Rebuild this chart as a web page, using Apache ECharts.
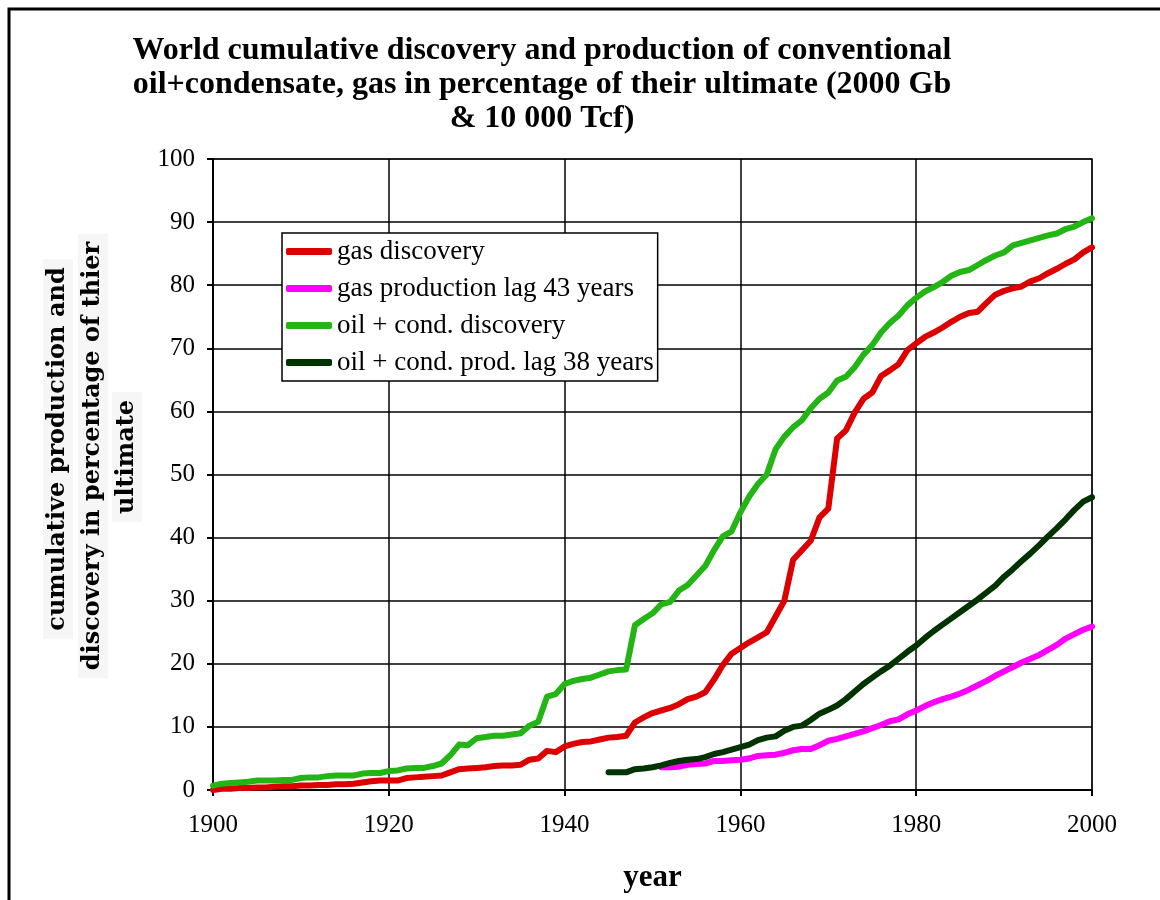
<!DOCTYPE html>
<html>
<head>
<meta charset="utf-8">
<script src="https://cdn.jsdelivr.net/npm/echarts@6/dist/echarts.min.js"></script>
<style>html,body{margin:0;padding:0;background:#fff;}#c{width:1160px;height:900px;}</style>
</head>
<body>
<div id="c"></div>
<script>
// ---- data ----
var gasDiscYears = [];
for (var y = 1900; y <= 2000; y++) gasDiscYears.push(y);
var oilDiscYears = gasDiscYears;
var gasDiscovery = [0,0.2,0.2,0.3,0.3,0.4,0.4,0.5,0.6,0.6,
  0.7,0.7,0.8,0.8,0.9,0.9,1.0,1.2,1.4,1.5,
  1.5,1.5,1.9,2.0,2.1,2.2,2.3,2.8,3.3,3.4,
  3.5,3.6,3.8,3.9,3.9,4.0,4.8,5.0,6.2,6.0,
  6.9,7.3,7.6,7.7,8.0,8.3,8.4,8.6,10.7,11.5,
  12.2,12.6,13.0,13.6,14.4,14.8,15.5,17.5,19.8,21.6,
  22.5,23.4,24.2,25.0,27.5,30.0,36.5,38.0,39.5,43.2,
  44.6,55.7,57.0,59.8,62.0,63.0,65.6,66.5,67.5,69.7,
  70.8,71.8,72.5,73.3,74.2,75.0,75.6,75.8,77.2,78.5,
  79.1,79.5,79.8,80.6,81.1,81.9,82.6,83.4,84.1,85.2,86.0];
var oilDiscovery = [0.7,1.0,1.1,1.2,1.3,1.5,1.5,1.5,1.6,1.6,
  1.9,2.0,2.0,2.2,2.3,2.3,2.3,2.6,2.7,2.7,
  3.0,3.1,3.4,3.5,3.5,3.8,4.2,5.5,7.2,7.1,
  8.2,8.4,8.6,8.6,8.8,9.0,10.2,10.8,14.8,15.2,
  16.8,17.3,17.6,17.8,18.3,18.8,19.0,19.1,26.1,27.1,
  28.0,29.4,29.8,31.6,32.5,34.0,35.5,38.0,40.2,41.0,
  44.0,46.5,48.5,50.0,54.0,56.0,57.5,58.6,60.5,62.0,
  63.0,64.9,65.5,67.0,69.0,70.5,72.5,74.0,75.2,76.8,
  78.0,79.0,79.7,80.5,81.5,82.1,82.4,83.2,84.0,84.7,
  85.2,86.3,86.7,87.1,87.5,87.9,88.2,88.9,89.3,90.0,90.6];
var oilProdYears = [];
for (var y2 = 1945; y2 <= 2000; y2++) oilProdYears.push(y2);
var oilProduction = [2.8,2.8,2.8,3.3,3.4,
  3.6,3.9,4.3,4.6,4.8,4.9,5.2,5.7,6.0,6.4,
  6.8,7.2,7.9,8.3,8.5,9.4,10.0,10.2,11.1,12.1,
  12.7,13.4,14.4,15.6,16.8,17.8,18.8,19.7,20.8,21.9,
  22.9,24.1,25.2,26.2,27.2,28.2,29.2,30.2,31.3,32.4,
  33.8,35.0,36.3,37.5,38.8,40.2,41.5,42.9,44.4,45.7,46.4];
var gasProdYears = [];
for (var y3 = 1951; y3 <= 2000; y3++) gasProdYears.push(y3);
var gasProduction = [3.6,3.6,3.7,4.0,4.1,4.2,4.6,4.6,4.7,
  4.8,5.0,5.4,5.5,5.6,5.9,6.3,6.5,6.5,7.1,
  7.8,8.1,8.5,8.9,9.3,9.8,10.3,10.9,11.2,12.0,
  12.6,13.3,13.9,14.4,14.8,15.3,15.9,16.6,17.3,18.1,
  18.8,19.5,20.2,20.8,21.4,22.2,23.0,24.0,24.7,25.4,25.9];
var seriesNames = ['gas discovery','gas production lag 43 years','oil + cond. discovery','oil + cond. prod. lag 38 years'];
var xTicks = [1900,1920,1940,1960,1980,2000];
var yTicks = [0,10,20,30,40,50,60,70,80,90,100];
var titleLines = ['World cumulative discovery and production of conventional','oil+condensate, gas in percentage of their ultimate (2000 Gb','& 10 000 Tcf)'];
var yNameLines = ['cumulative production and','discovery in percentage of thier','ultimate'];

function pairs(xs, vs){ return xs.map(function(x,i){ return [x, vs[i]]; }); }

var serif = 'Liberation Serif, Times New Roman, serif';
var chart = echarts.init(document.getElementById('c'), null, {renderer:'canvas'});
function mk(name, xs, vs, color){
  return {name:name, type:'line', data:pairs(xs,vs), showSymbol:false, symbol:'none',
    lineStyle:{color:color, width:6, cap:'round', join:'round'}, itemStyle:{color:color},
    animation:false, silent:true};
}
var yNamePos = [[58,449],[93,456],[127,457]];
var yNameGraphics = yNameLines.map(function(t,i){
  return {type:'text', x:yNamePos[i][0], y:yNamePos[i][1], rotation:Math.PI/2,
    style:{text:t, font:'bold 24px DejaVu Serif, serif', fill:'#000', align:'center', verticalAlign:'middle',
      backgroundColor:'#f6f6f6', padding:[3,8,3,8]}};
});
chart.setOption({
  animation:false,
  backgroundColor:'#fff',
  grid:{left:213, right:68, top:159, bottom:110, show:true, borderColor:'#888', borderWidth:2},
  xAxis:{type:'value', min:1900, max:2000, interval:20,
    axisLine:{show:true, onZero:false, lineStyle:{color:'#000', width:2}},
    axisTick:{show:true, length:6, lineStyle:{color:'#000', width:2}},
    axisLabel:{fontFamily:serif, fontSize:25, color:'#000', margin:23, formatter:function(v){return String(v);}},
    splitLine:{show:true, lineStyle:{color:'#000', width:1.5}},
    name:'year', nameLocation:'middle', nameGap:72,
    nameTextStyle:{fontFamily:serif, fontSize:31, fontWeight:'bold', color:'#000'}},
  yAxis:{type:'value', min:0, max:100, interval:10,
    axisLine:{show:true, lineStyle:{color:'#000', width:2}},
    axisTick:{show:true, length:6, lineStyle:{color:'#000', width:2}},
    axisLabel:{fontFamily:serif, fontSize:25, color:'#000', margin:18},
    splitLine:{show:true, lineStyle:{color:'#000', width:1.5}}},
  legend:{orient:'vertical', left:282, top:233, data:seriesNames,
    backgroundColor:'#fff', borderColor:'#000', borderWidth:1.5, borderRadius:0,
    padding:[5,4,5,4], itemWidth:46, itemHeight:7, itemGap:10, icon:'roundRect',
    textStyle:{fontFamily:serif, fontSize:27, color:'#000', lineHeight:27, padding:[0,0,0,0]}},
  graphic:[
    {type:'polyline', shape:{points:[[9,900],[9,9],[1160,9]]}, style:{stroke:'#000', lineWidth:3, fill:null}, z:100},
    {type:'text', x:542, y:34, style:{text:titleLines.join('\n'),
      font:'bold 32px ' + serif, fill:'#000', align:'center', verticalAlign:'top', lineHeight:34}}
  ].concat(yNameGraphics),
  series:[
    mk(seriesNames[0], gasDiscYears, gasDiscovery, '#dd0000'),
    mk(seriesNames[1], gasProdYears, gasProduction, '#ff00ff'),
    mk(seriesNames[2], oilDiscYears, oilDiscovery, '#22b514'),
    mk(seriesNames[3], oilProdYears, oilProduction, '#003300')
  ]
});
</script>
</body>
</html>
